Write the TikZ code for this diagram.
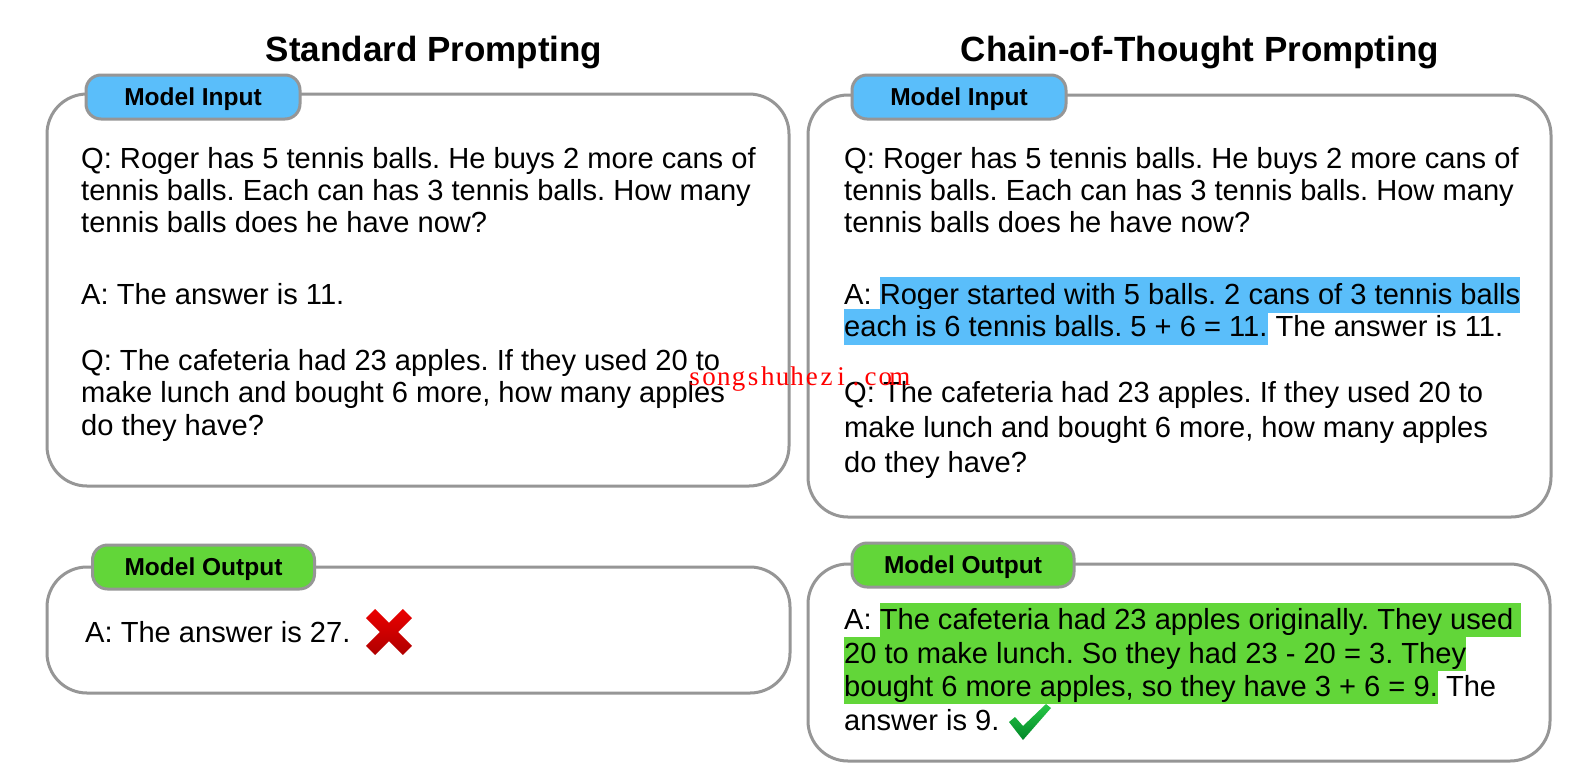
\documentclass[tikz,border=0pt]{standalone}
\usepackage{fontspec}
\setmainfont{Liberation Sans}
\newfontfamily\wmfont{Liberation Serif}
\definecolor{boxgray}{RGB}{150,150,150}
\definecolor{inblue}{RGB}{90,190,250}
\definecolor{outgreen}{RGB}{98,214,57}
\definecolor{xred}{RGB}{235,0,0}
\definecolor{xdark}{RGB}{175,0,0}
\definecolor{ckgreen}{RGB}{40,200,70}
\definecolor{ckdark}{RGB}{0,135,40}
\setlength{\fboxsep}{0pt}
\frenchspacing
\newcommand{\hlb}[1]{\colorbox{inblue}{\rule[-9pt]{0pt}{36pt}#1}}
\newcommand{\hlg}[1]{\colorbox{outgreen}{\rule[-8pt]{0pt}{34pt}#1}}
\newcommand{\wmc}[1]{\makebox[14.67pt]{#1}}
\tikzset{
  frame/.style={draw=boxgray, line width=3pt, rounded corners=40pt},
  tabbox/.style={draw=boxgray, line width=3pt, rounded corners=15pt, inner sep=0pt,
    font=\bfseries\fontsize{24.5}{28}\selectfont, text height=17.5pt, text depth=0pt,
    minimum height=44pt},
  intab/.style={tabbox, fill=inblue, minimum width=214pt},
  outtab/.style={tabbox, fill=outgreen, minimum width=222pt},
  body/.style={anchor=base west, inner sep=0pt, font=\fontsize{29.1}{32}\selectfont},
  ttl/.style={anchor=base, inner sep=0pt, font=\bfseries\fontsize{35}{40}\selectfont},
  wmark/.style={anchor=base west, inner sep=0pt, text=red, font=\wmfont\fontsize{27}{30}\selectfont}
}
\begin{document}
\begin{tikzpicture}[x=1pt, y=-1pt]
\fill[white] (0,0) rectangle (1592,772);
\useasboundingbox (0,0) rectangle (1592,772);

% titles
\node[ttl] (tstd) at (434,61) {Standard Prompting};
\node[ttl] (tcot) at (1200,61) {Chain-of-Thought Prompting};

% frames
\draw[frame] (47,94) rectangle (789,486);
\draw[frame] (808,95) rectangle (1551,517);
\draw[frame] (47,567) rectangle (790,693);
\draw[frame] (808,564) rectangle (1550,761);

% tabs
\node[intab] (tabinL) at (193,97) {Model Input};
\node[intab] (tabinR) at (959,97) {Model Input};
\node[outtab] (taboutL) at (203.5,567) {Model Output};
\node[outtab] (taboutR) at (963,565) {Model Output};

% left input text
\node[body] (li1) at (81,168) {Q: Roger has 5 tennis balls. He buys 2 more cans of};
\node[body] (li2) at (81,200) {tennis balls. Each can has 3 tennis balls. How many};
\node[body] (li3) at (81,232) {tennis balls does he have now?};
\node[body] (li4) at (81,304) {A: The answer is 11.};
\node[body] (li5) at (81,370) {Q: The cafeteria had 23 apples. If they used 20 to};
\node[body] (li6) at (81,402) {make lunch and bought 6 more, how many apples};
\node[body] (li7) at (81,435) {do they have?};

% right input text
\node[body] (ri1) at (844,168) {Q: Roger has 5 tennis balls. He buys 2 more cans of};
\node[body] (ri2) at (844,200) {tennis balls. Each can has 3 tennis balls. How many};
\node[body] (ri3) at (844,232) {tennis balls does he have now?};
\node[body] (ri4) at (844,304) {A: \hlb{Roger started with 5 balls. 2 cans of 3 tennis balls}};
\node[body] (ri5) at (844,336) {\hlb{each is 6 tennis balls. 5 + 6 = 11.} The answer is 11.};
\node[body] (ri6) at (844,402) {Q: The cafeteria had 23 apples. If they used 20 to};
\node[body] (ri7) at (844,437) {make lunch and bought 6 more, how many apples};
\node[body] (ri8) at (844,472) {do they have?};

% left output
\node[body] (lo1) at (85,642) {A: The answer is 27.};
\shade[shift={(389,632)}, top color=xred, bottom color=xdark]
  (9.19,0) -- (22.98,13.79) -- (13.79,22.98) -- (0,9.19) -- (-13.79,22.98)
  -- (-22.98,13.79) -- (-9.19,0) -- (-22.98,-13.79) -- (-13.79,-22.98)
  -- (0,-9.19) -- (13.79,-22.98) -- (22.98,-13.79) -- cycle;

% right output
\node[body] (ro1) at (844,629) {A: \hlg{The cafeteria had 23 apples originally. They used\ }};
\node[body] (ro2) at (844,663) {\hlg{20 to make lunch. So they had 23 - 20 = 3. They}};
\node[body] (ro3) at (844,696) {\hlg{bought 6 more apples, so they have 3 + 6 = 9.} The};
\node[body] (ro4) at (844,730) {answer is 9.};
\shade[top color=ckgreen, bottom color=ckdark]
  (1009,722) -- (1015,717) -- (1023,726) -- (1046,704) -- (1051,708) -- (1023,740) -- cycle;

% watermark
\node[wmark] (wm) at (687,385) {\wmc{s}\wmc{o}\wmc{n}\wmc{g}\wmc{s}\wmc{h}\wmc{u}\wmc{h}\wmc{e}\wmc{z}\wmc{i}\wmc{.}\wmc{c}\wmc{o}\wmc{m}};
\end{tikzpicture}
\end{document}
